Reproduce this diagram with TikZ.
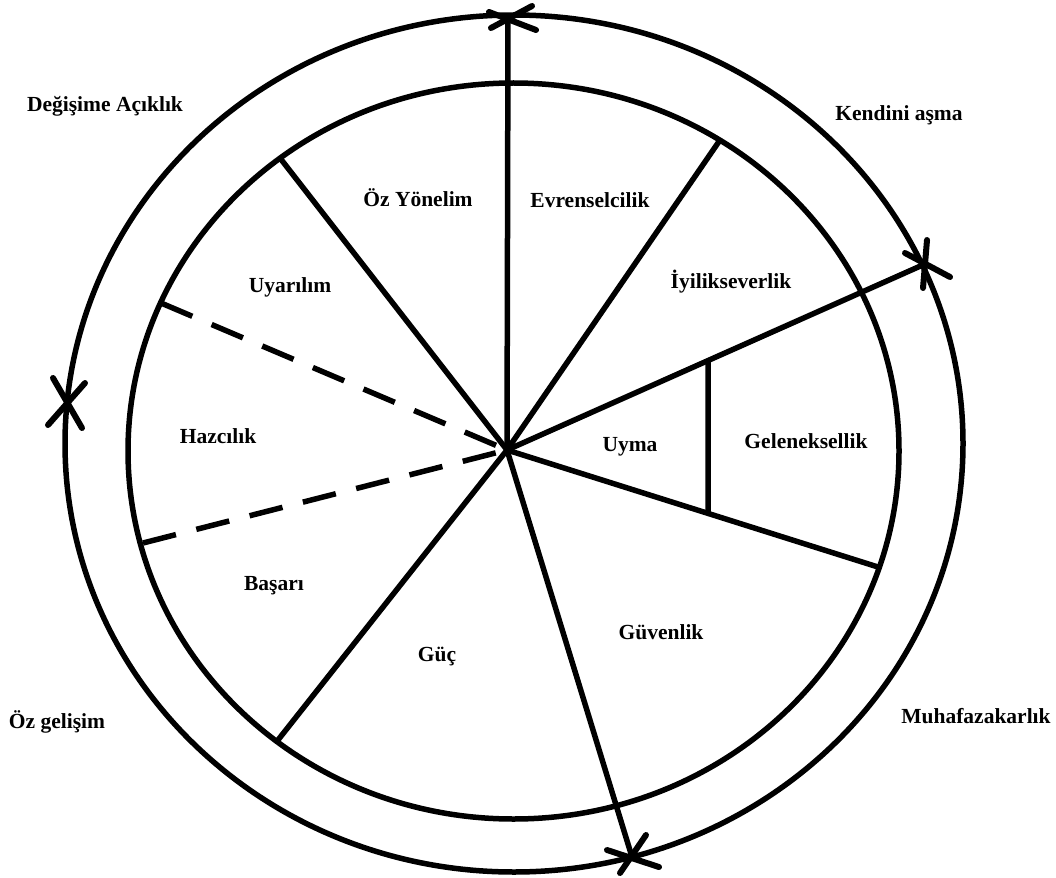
\documentclass[tikz,border=0pt]{standalone}
\usepackage{fontspec}
\setmainfont{Liberation Serif}
\usetikzlibrary{calc}
\begin{document}
\begin{tikzpicture}[x=1pt,y=-1pt,
  ring/.style={line width=5.5pt},
  spoke/.style={line width=5.5pt},
  dspoke/.style={line width=5.5pt,dash pattern=on 34pt off 21pt},
  xstroke/.style={line width=6pt,line cap=round},
  lbl/.style={font=\fontsize{21.5}{25}\selectfont\bfseries,inner sep=0pt}]
\useasboundingbox (0,0) rectangle (1056,877);
% circles
\draw[ring] (513.5,451) ellipse [x radius=385.5pt, y radius=368pt];
\draw[ring] (514,443.5) ellipse [x radius=449pt, y radius=428.5pt];
% coordinates
\coordinate (c) at (507,450);
\coordinate (top) at (508,19);
\coordinate (rx) at (925,264);
\coordinate (bot) at (632,857);
\coordinate (lx) at (67,403);
\coordinate (e1) at (720,140);
\coordinate (e2) at (878,567);
\coordinate (e3) at (278,740);
\coordinate (e4) at (143,543);
\coordinate (e5) at (161,303);
\coordinate (e6) at (280,158);
\coordinate (u1) at ($(c)!0.4809!(rx)$);
\coordinate (u2) at ($(c)!0.5418!(e2)$);
% spokes
\draw[spoke] (c) -- (top);
\draw[spoke] (c) -- (e1);
\draw[spoke] (c) -- (rx);
\draw[spoke] (c) -- (e2);
\draw[spoke] (c) -- (bot);
\draw[spoke] (c) -- (e3);
\draw[dspoke] (e4) -- (c);
\draw[dspoke] (e5) -- (c);
\draw[spoke] (c) -- (e6);
\draw[spoke] (u1) -- (u2);
% cross marks
\draw[xstroke] ($(top)+(-19,-7)$) -- ($(top)+(28,11)$);
\draw[xstroke] ($(top)+(-17,9)$) -- ($(top)+(24,-13)$);
\draw[xstroke] ($(rx)+(2,-24)$) -- ($(rx)+(-2,24)$);
\draw[xstroke] ($(rx)+(-20,-11)$) -- ($(rx)+(25,13)$);
\draw[xstroke] ($(lx)+(-14,-25)$) -- ($(lx)+(15,25)$);
\draw[xstroke] ($(lx)+(18,-20)$) -- ($(lx)+(-19,22)$);
\draw[xstroke] ($(bot)+(14,-22)$) -- ($(bot)+(-12,16)$);
\draw[xstroke] ($(bot)+(-25,-7)$) -- ($(bot)+(27,10)$);
% labels
\node[lbl] (l1) at (105,106) {Değişime Açıklık};
\node[lbl] (l2) at (899,115) {Kendini aşma};
\node[lbl] (l3) at (57,722) {Öz gelişim};
\node[lbl] (l4) at (976,716) {Muhafazakarlık};
\node[lbl] (s1) at (418,198) {Öz Yönelim};
\node[lbl] (s2) at (590,200) {Evrenselcilik};
\node[lbl] (s3) at (731,282) {İyilikseverlik};
\node[lbl] (s4) at (290,287) {Uyarılım};
\node[lbl] (s5) at (218,436) {Hazcılık};
\node[lbl] (s6) at (630,447) {Uyma};
\node[lbl] (s7) at (806,441) {Geleneksellik};
\node[lbl] (s8) at (274,586) {Başarı};
\node[lbl] (s9) at (437,657) {Güç};
\node[lbl] (s10) at (661,632) {Güvenlik};
\end{tikzpicture}
\end{document}
